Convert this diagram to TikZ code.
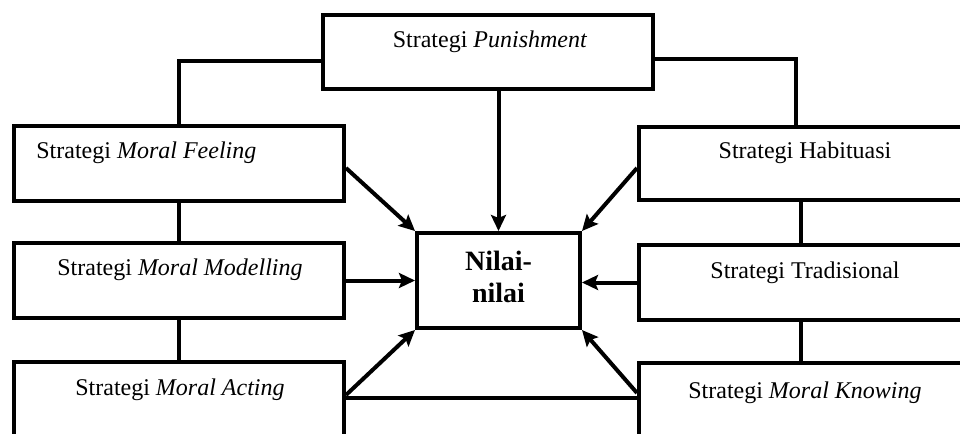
\documentclass[tikz,border=0pt]{standalone}
\usepackage{fontspec}
\setmainfont{Liberation Serif}
\usetikzlibrary{arrows.meta,calc}
\begin{document}
\begin{tikzpicture}[x=0.5pt,y=-0.5pt,
  box/.style={draw, line width=2pt, inner sep=0pt, fill=white},
  lbl/.style={inner sep=0pt, font=\fontsize{12}{14}\selectfont},
  conn/.style={line width=2pt},
  arr/.style={line width=2pt, -{Stealth[length=8pt,width=7.5pt,inset=1.5pt]}},
]
\useasboundingbox (0,0) rectangle (960,434);
\clip (0,0) rectangle (960,434);
% boxes
\node[box, minimum width=165pt, minimum height=37pt] (pun) at (488,52) {};
\node[box, minimum width=165pt, minimum height=37.5pt] (feel) at (179,163.5) {};
\node[box, minimum width=165pt, minimum height=37.5pt] (mod) at (179,280.5) {};
\node[box, minimum width=165pt, minimum height=59pt] (act) at (179,421) {};
\node[box, minimum width=230.5pt, minimum height=36.5pt] (hab) at (869.5,163.5) {};
\node[box, minimum width=230.5pt, minimum height=37.5pt] (trad) at (869.5,282.5) {};
\node[box, minimum width=230.5pt, minimum height=58.5pt] (know) at (869.5,421.5) {};
\node[box, minimum width=81.5pt, minimum height=47.5pt] (nil) at (498.5,280.5) {};
% texts
\node[lbl, anchor=base] (tpun) at (490,47) {Strategi \textit{Punishment}};
\node[lbl, anchor=base west] (tfeel) at (36,158) {Strategi \textit{Moral Feeling}};
\node[lbl, anchor=base] (tmod) at (180,275) {Strategi \textit{Moral Modelling}};
\node[lbl, anchor=base] (tact) at (180,395) {Strategi \textit{Moral Acting}};
\node[lbl, anchor=base] (thab) at (805,158) {Strategi Habituasi};
\node[lbl, anchor=base] (ttrad) at (805,278) {Strategi Tradisional};
\node[lbl, anchor=base] (tknow) at (805,398) {Strategi \textit{Moral Knowing}};
\node[inner sep=0pt, align=center, font=\fontsize{14}{16}\bfseries] (tnil) at (498.5,276.5) {Nilai-\\nilai};
% tree connectors
\coordinate (habtop) at ($(hab.north west)+(159,0)$);
\coordinate (actside) at ($(act.north east)+(0,38)$);
\draw[conn] ($(pun.west)+(0,9)$) -| (feel.north);
\draw[conn] ($(pun.east)+(0,7)$) -| (habtop);
\draw[conn] (feel.south) -- (mod.north);
\draw[conn] (mod.south) -- (act.north);
\draw[conn] ($(hab.south west)+(164,0)$) -- ($(trad.north west)+(164,0)$);
\draw[conn] ($(trad.south west)+(164,0)$) -- ($(know.north west)+(164,0)$);
\draw[conn] (actside) -- (know.west |- actside);
% arrows to Nilai-nilai
\draw[arr] (nil.north |- pun.south) -- (nil.north);
\draw[arr] ($(feel.east)+(0,4.5)$) -- (nil.north west);
\draw[arr] ($(hab.west)+(0,4.5)$) -- (nil.north east);
\draw[arr] (mod.east) -- (nil.west |- mod.east);
\draw[arr] (trad.west) -- (nil.east |- trad.west);
\draw[arr] ($(act.north east)+(0,35)$) -- (nil.south west);
\draw[arr] ($(know.north west)+(0,32)$) -- (nil.south east);
\end{tikzpicture}
\end{document}
